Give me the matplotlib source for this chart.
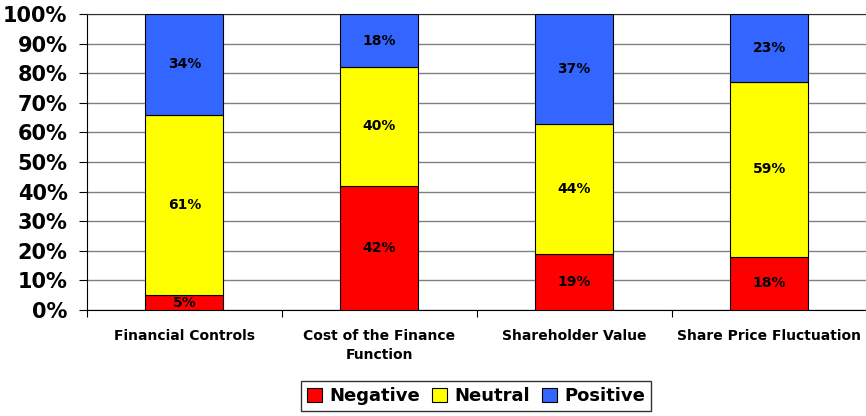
import matplotlib.pyplot as plt
import numpy as np

categories = ['Financial Controls', 'Cost of the Finance\nFunction',
              'Shareholder Value', 'Share Price Fluctuation']
negative = [5, 42, 19, 18]
neutral = [61, 40, 44, 59]
positive = [34, 18, 37, 23]
series_names = ['Negative', 'Neutral', 'Positive']
colors = ['#FF0000', '#FFFF00', '#3366FF']

plt.rcParams['font.family'] = ['DejaVu Sans']

fig = plt.figure(figsize=(8.66, 4.16), dpi=100)
ax = fig.add_axes([87 / 866, 106 / 416, 779.5 / 866, 296 / 416])

x = np.arange(len(categories))
bottom = np.zeros(len(categories))
handles = []
for vals, name, col in zip([negative, neutral, positive], series_names, colors):
    vals = np.array(vals, dtype=float)
    b = ax.bar(x, vals, width=0.4, bottom=bottom, color=col, edgecolor='black',
               linewidth=0.8, label=name, zorder=3)
    handles.append(b)
    for xi, v, b0 in zip(x, vals, bottom):
        ax.text(xi, b0 + v / 2, '%d%%' % v, ha='center', va='center',
                fontsize=10, fontweight='bold', zorder=4)
    bottom += vals

ax.set_xlim(-0.5, 3.5)
ax.set_ylim(0, 100)
ax.set_yticks(np.arange(0, 101, 10))
ax.set_yticklabels(['%d%%' % v for v in range(0, 101, 10)],
                   fontsize=15, fontweight='bold')
ax.yaxis.grid(True, color='#808080', linewidth=1, zorder=0)
ax.set_axisbelow(True)

ax.set_xticks(np.arange(-0.5, 3.6, 1))
ax.set_xticklabels([])
ax.set_xticks(x, minor=True)
ax.set_xticklabels(categories, minor=True, fontsize=10, fontweight='bold',
                   linespacing=1.4)
ax.tick_params(axis='x', which='minor', length=0, pad=14)
ax.tick_params(axis='x', which='major', length=5, direction='out')
ax.tick_params(axis='y', length=6, direction='out', pad=8)

ax.spines['right'].set_visible(False)
ax.spines['top'].set_color('#333333')

leg = fig.legend(handles=handles, loc='center', bbox_to_anchor=(476 / 866, 1 - 396 / 416),
                 ncol=3, frameon=True, fancybox=False, edgecolor='black',
                 prop={'size': 13, 'weight': 'bold'}, handlelength=0.8,
                 handleheight=0.8, handletextpad=0.4, columnspacing=0.7,
                 borderpad=0.35)
leg.get_frame().set_linewidth(1)

fig.savefig('out.png', dpi=100)
